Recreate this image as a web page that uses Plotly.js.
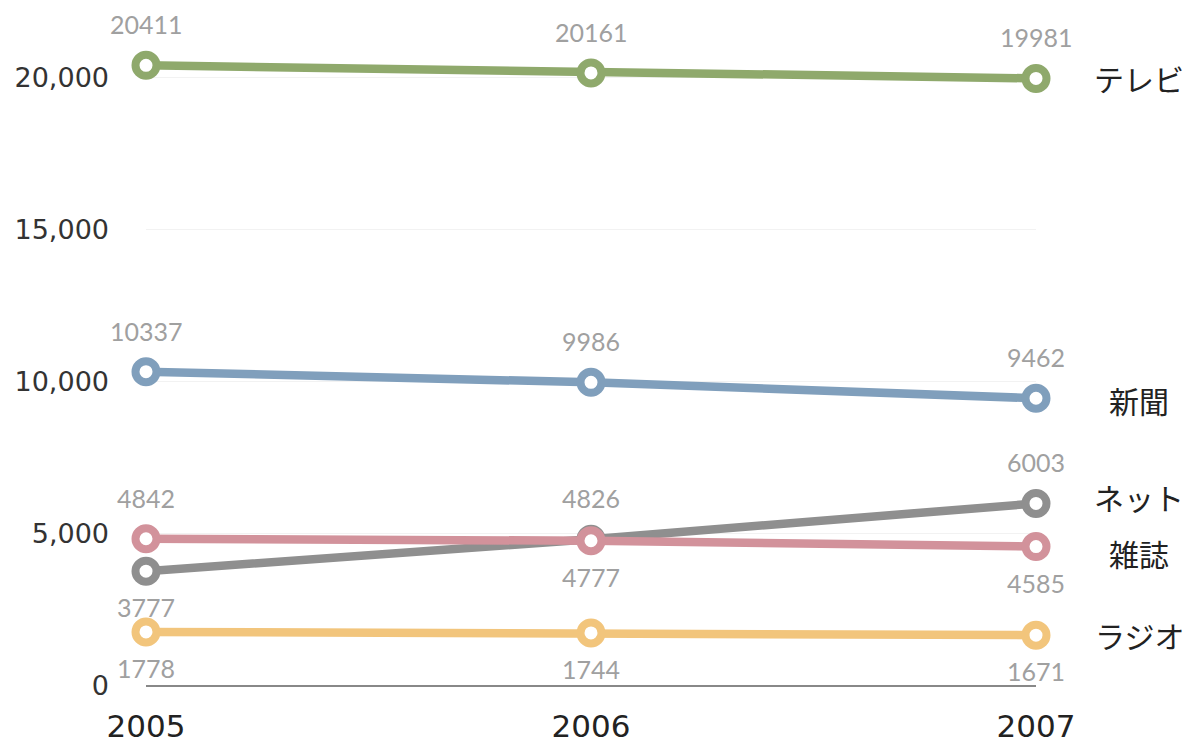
<!DOCTYPE html>
<html><head><meta charset="utf-8">
<script src="https://cdn.plot.ly/plotly-3.0.1.min.js"></script>
<style>html,body{margin:0;padding:0;background:#fff}#chart{width:1189px;height:746px}</style>
</head><body><div id="chart"></div>
<script>
const years = [2005, 2006, 2007];
const tv = [20411, 20161, 19981];
const newspaper = [10337, 9986, 9462];
const net = [3777, 4826, 6003];
const magazine = [4842, 4777, 4585];
const radio = [1778, 1744, 1671];
const seriesNames = ["テレビ", "新聞", "ネット", "雑誌", "ラジオ"];
const yTicks = [0, 5000, 10000, 15000, 20000];
const yTickText = ["0", "5,000", "10,000", "15,000", "20,000"];

const series = [
  {name: "ラジオ", y: radio, color: "#f2c57c", pos: ["below","below","below"]},
  {name: "ネット", y: net, color: "#8f8f8f", pos: ["below","above","above"]},
  {name: "雑誌", y: magazine, color: "#d2929b", pos: ["above","below","below"]},
  {name: "新聞", y: newspaper, color: "#809fbc", pos: ["above","above","above"]},
  {name: "テレビ", y: tv, color: "#8fa96c", pos: ["above","above","above"]}
];
const nameShift = {"テレビ": 0, "新聞": -2, "ネット": 6, "雑誌": -6, "ラジオ": 0};

const traces = series.map(s => ({
  x: years, y: s.y, type: "scatter", mode: "lines+markers", cliponaxis: false,
  line: {color: s.color, width: 8.5},
  marker: {symbol: "circle", size: 21, color: "#ffffff", line: {color: s.color, width: 8}},
  hoverinfo: "skip", showlegend: false
}));

const annotations = [];
series.forEach(s => {
  s.y.forEach((v, i) => {
    annotations.push({x: years[i], y: v, xref: "x", yref: "y", text: String(v), showarrow: false,
      yshift: s.pos[i] === "above" ? 41 : -36,
      font: {family: "Lato, 'Open Sans', sans-serif", size: 25, color: "#a0a0a0"}});
  });
  annotations.push({x: years[2], y: s.y[2], xref: "x", yref: "y", text: s.name, showarrow: false,
    xshift: 103, yshift: nameShift[s.name], xanchor: "center",
    font: {family: "'Noto Sans CJK JP', sans-serif", size: 30, color: "#222"}});
});

const layout = {
  width: 1189, height: 746,
  margin: {l: 146, r: 153, t: 17, b: 60},
  paper_bgcolor: "#fff", plot_bgcolor: "#fff",
  xaxis: {range: [2005, 2007], tickvals: years, ticktext: years.map(String), showgrid: false, zeroline: false,
    showline: false, ticks: "", ticklabelstandoff: 19,
    tickfont: {family: "'DejaVu Sans', sans-serif", size: 31, color: "#222"}},
  yaxis: {range: [0, 22000], tickvals: yTicks, ticktext: yTickText, showgrid: true, gridcolor: "#f2f2f2", gridwidth: 1,
    zeroline: true, zerolinecolor: "#888", zerolinewidth: 1.5, showline: false, ticks: "", ticklabelstandoff: 36,
    tickfont: {family: "'DejaVu Sans', sans-serif", size: 27, color: "#333"}},
  annotations: annotations,
  showlegend: false
};
Plotly.newPlot("chart", traces, layout, {displayModeBar: false, staticPlot: true});
</script></body></html>
